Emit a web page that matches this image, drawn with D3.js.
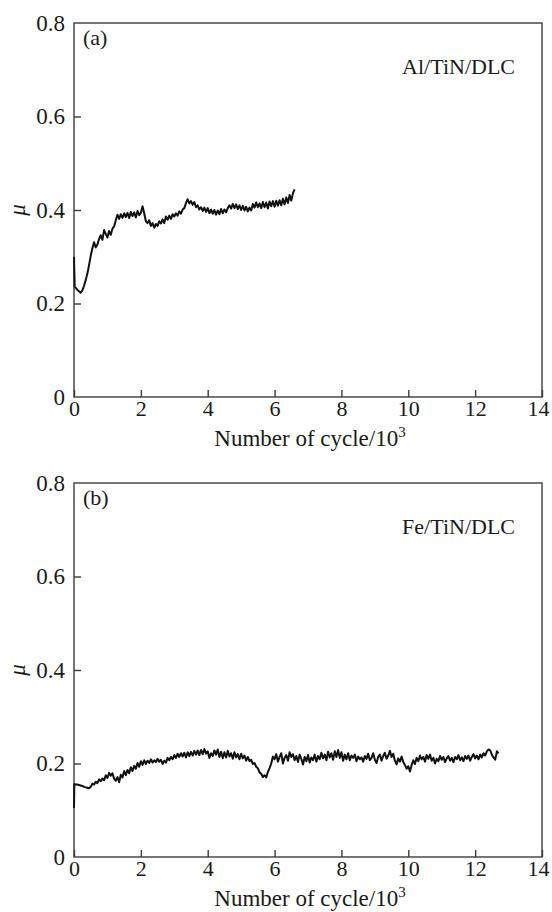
<!DOCTYPE html>
<html>
<head>
<meta charset="utf-8">
<script src="https://cdn.jsdelivr.net/npm/d3@7"></script>
<style>
  body { margin: 0; background: #fff; }
  svg { display: block; }
  text { font-family: "Liberation Serif", "Times New Roman", serif; fill: #1a1a1a; }
</style>
</head>
<body>
<svg id="chart" width="552" height="912"></svg>
<script>
// Axis ticks
const cycleTicks = [0, 2, 4, 6, 8, 10, 12, 14];
const muTicks = [0, 0.2, 0.4, 0.6, 0.8];
const muTickLabels = ["0", "0.2", "0.4", "0.6", "0.8"];

// Panel annotations
const panelTags = ["(a)", "(b)"];
const coatings = ["Al/TiN/DLC", "Fe/TiN/DLC"];

// (a) Al/TiN/DLC: friction coefficient vs. number of cycles (x10^3)
const cyclesA = [0, 0.02,
  0.10, 0.15, 0.20, 0.25, 0.30, 0.35, 0.40, 0.45, 0.50, 0.55, 0.60, 0.65, 0.70, 0.75, 0.80, 0.85, 0.90, 0.95, 1.00,
  1.05, 1.10, 1.15, 1.20, 1.25, 1.30, 1.35, 1.40, 1.45, 1.50, 1.55, 1.60, 1.65, 1.70, 1.75, 1.80, 1.85, 1.90, 1.95, 2.00,
  2.05, 2.10, 2.15, 2.20, 2.25, 2.30, 2.35, 2.40, 2.45, 2.50, 2.55, 2.60, 2.65, 2.70, 2.75, 2.80, 2.85, 2.90, 2.95, 3.00,
  3.05, 3.10, 3.15, 3.20, 3.25, 3.30, 3.35, 3.40, 3.45, 3.50, 3.55, 3.60, 3.65, 3.70, 3.75, 3.80, 3.85, 3.90, 3.95, 4.00,
  4.05, 4.10, 4.15, 4.20, 4.25, 4.30, 4.35, 4.40, 4.45, 4.50, 4.55, 4.60, 4.65, 4.70, 4.75, 4.80, 4.85, 4.90, 4.95, 5.00,
  5.05, 5.10, 5.15, 5.20, 5.25, 5.30, 5.35, 5.40, 5.45, 5.50, 5.55, 5.60, 5.65, 5.70, 5.75, 5.80, 5.85, 5.90, 5.95, 6.00,
  6.05, 6.10, 6.15, 6.20, 6.25, 6.30, 6.35, 6.40, 6.45, 6.50, 6.55, 6.60];
const muA = [0.300, 0.236,
  0.229, 0.226, 0.223, 0.228, 0.238, 0.250, 0.264, 0.282, 0.302, 0.318, 0.331, 0.320, 0.326, 0.338, 0.346, 0.336, 0.357, 0.349, 0.341,
  0.355, 0.347, 0.360, 0.365, 0.378, 0.390, 0.381, 0.391, 0.383, 0.393, 0.385, 0.394, 0.383, 0.396, 0.387, 0.395, 0.384, 0.398, 0.389, 0.394,
  0.408, 0.393, 0.376, 0.372, 0.378, 0.366, 0.372, 0.362, 0.370, 0.366, 0.376, 0.371, 0.380, 0.372, 0.386, 0.379, 0.388, 0.381, 0.391, 0.386,
  0.393, 0.388, 0.397, 0.392, 0.401, 0.404, 0.415, 0.423, 0.414, 0.419, 0.411, 0.417, 0.406, 0.410, 0.401, 0.406, 0.398, 0.405, 0.396, 0.404,
  0.393, 0.401, 0.392, 0.400, 0.390, 0.399, 0.391, 0.402, 0.393, 0.401, 0.395, 0.404, 0.410, 0.403, 0.413, 0.404, 0.412, 0.402, 0.410, 0.400,
  0.409, 0.399, 0.407, 0.397, 0.405, 0.399, 0.413, 0.405, 0.416, 0.406, 0.414, 0.404, 0.417, 0.406, 0.416, 0.403, 0.418, 0.408, 0.419, 0.407,
  0.420, 0.409, 0.421, 0.410, 0.424, 0.412, 0.427, 0.415, 0.432, 0.420, 0.436, 0.444];

// (b) Fe/TiN/DLC
const cyclesB = [0, 0.01,
  0.05, 0.10, 0.15, 0.20, 0.25, 0.30, 0.35, 0.40, 0.45, 0.50, 0.55, 0.60, 0.65, 0.70, 0.75, 0.80, 0.85, 0.90, 0.95, 1.00,
  1.05, 1.10, 1.15, 1.20, 1.25, 1.30, 1.35, 1.40, 1.45, 1.50, 1.55, 1.60, 1.65, 1.70, 1.75, 1.80, 1.85, 1.90, 1.95, 2.00,
  2.05, 2.10, 2.15, 2.20, 2.25, 2.30, 2.35, 2.40, 2.45, 2.50, 2.55, 2.60, 2.65, 2.70, 2.75, 2.80, 2.85, 2.90, 2.95, 3.00,
  3.05, 3.10, 3.15, 3.20, 3.25, 3.30, 3.35, 3.40, 3.45, 3.50, 3.55, 3.60, 3.65, 3.70, 3.75, 3.80, 3.85, 3.90, 3.95, 4.00,
  4.05, 4.10, 4.15, 4.20, 4.25, 4.30, 4.35, 4.40, 4.45, 4.50, 4.55, 4.60, 4.65, 4.70, 4.75, 4.80, 4.85, 4.90, 4.95, 5.00,
  5.05, 5.10, 5.15, 5.20, 5.25, 5.30, 5.35, 5.40, 5.45, 5.50, 5.55, 5.60, 5.65, 5.70, 5.75, 5.80, 5.85, 5.90, 5.95, 6.00,
  6.05, 6.10, 6.15, 6.20, 6.25, 6.30, 6.35, 6.40, 6.45, 6.50, 6.55, 6.60, 6.65, 6.70, 6.75, 6.80, 6.85, 6.90, 6.95, 7.00,
  7.05, 7.10, 7.15, 7.20, 7.25, 7.30, 7.35, 7.40, 7.45, 7.50, 7.55, 7.60, 7.65, 7.70, 7.75, 7.80, 7.85, 7.90, 7.95, 8.00,
  8.05, 8.10, 8.15, 8.20, 8.25, 8.30, 8.35, 8.40, 8.45, 8.50, 8.55, 8.60, 8.65, 8.70, 8.75, 8.80, 8.85, 8.90, 8.95, 9.00,
  9.05, 9.10, 9.15, 9.20, 9.25, 9.30, 9.35, 9.40, 9.45, 9.50, 9.55, 9.60, 9.65, 9.70, 9.75, 9.80, 9.85, 9.90, 9.95, 10.00,
  10.05, 10.10, 10.15, 10.20, 10.25, 10.30, 10.35, 10.40, 10.45, 10.50, 10.55, 10.60, 10.65, 10.70, 10.75, 10.80, 10.85, 10.90, 10.95, 11.00,
  11.05, 11.10, 11.15, 11.20, 11.25, 11.30, 11.35, 11.40, 11.45, 11.50, 11.55, 11.60, 11.65, 11.70, 11.75, 11.80, 11.85, 11.90, 11.95, 12.00,
  12.05, 12.10, 12.15, 12.20, 12.25, 12.30, 12.35, 12.40, 12.45, 12.50, 12.55, 12.60, 12.65, 12.70];
const muB = [0.105, 0.156,
  0.155, 0.155, 0.154, 0.153, 0.152, 0.150, 0.149, 0.148, 0.147, 0.150, 0.157, 0.155, 0.161, 0.158, 0.166, 0.162, 0.168, 0.164, 0.175, 0.169,
  0.180, 0.174, 0.179, 0.168, 0.163, 0.171, 0.160, 0.176, 0.170, 0.184, 0.175, 0.186, 0.179, 0.192, 0.184, 0.195, 0.189, 0.201, 0.193, 0.205,
  0.197, 0.207, 0.199, 0.206, 0.201, 0.209, 0.202, 0.207, 0.203, 0.210, 0.204, 0.208, 0.199, 0.206, 0.202, 0.212, 0.207, 0.214, 0.209, 0.218,
  0.212, 0.221, 0.214, 0.222, 0.215, 0.223, 0.213, 0.224, 0.216, 0.225, 0.217, 0.227, 0.219, 0.228, 0.218, 0.229, 0.220, 0.231, 0.221, 0.226,
  0.212, 0.222, 0.216, 0.228, 0.219, 0.230, 0.214, 0.225, 0.211, 0.224, 0.213, 0.227, 0.215, 0.222, 0.210, 0.224, 0.213, 0.220, 0.209, 0.221,
  0.211, 0.217, 0.206, 0.214, 0.205, 0.208, 0.199, 0.201, 0.193, 0.190, 0.181, 0.178, 0.171, 0.175, 0.170, 0.182, 0.190, 0.200, 0.215, 0.209,
  0.220, 0.204, 0.214, 0.222, 0.200, 0.212, 0.218, 0.206, 0.224, 0.214, 0.220, 0.207, 0.216, 0.203, 0.219, 0.210, 0.198, 0.214, 0.205, 0.218,
  0.202, 0.213, 0.207, 0.219, 0.204, 0.216, 0.209, 0.223, 0.211, 0.219, 0.207, 0.225, 0.213, 0.222, 0.208, 0.226, 0.214, 0.229, 0.212, 0.224,
  0.206, 0.219, 0.209, 0.222, 0.207, 0.217, 0.212, 0.219, 0.205, 0.215, 0.209, 0.213, 0.204, 0.216, 0.210, 0.221, 0.207, 0.212, 0.222, 0.208,
  0.201, 0.214, 0.219, 0.206, 0.216, 0.223, 0.210, 0.217, 0.227, 0.214, 0.221, 0.206, 0.198, 0.211, 0.204, 0.215, 0.203, 0.197, 0.189, 0.194,
  0.183, 0.197, 0.207, 0.199, 0.212, 0.205, 0.217, 0.209, 0.214, 0.204, 0.218, 0.210, 0.219, 0.206, 0.212, 0.200, 0.210, 0.205, 0.216, 0.208,
  0.214, 0.203, 0.211, 0.216, 0.206, 0.212, 0.203, 0.214, 0.209, 0.218, 0.207, 0.213, 0.205, 0.216, 0.210, 0.217, 0.206, 0.214, 0.220, 0.211,
  0.217, 0.209, 0.219, 0.213, 0.222, 0.217, 0.226, 0.230, 0.228, 0.219, 0.213, 0.208, 0.226, 0.222];

const series = [
  { cycles: cyclesA, mu: muA },
  { cycles: cyclesB, mu: muB }
];

const svg = d3.select("#chart");
const left = 74, right = 542;
const panelTops = [23, 483];
const panelHeight = 374;
const axisColor = "#3c3c3c";
const fontSize = 23;

const x = d3.scaleLinear().domain([0, 14]).range([left, right]);

series.forEach((s, i) => {
  const top = panelTops[i];
  const bottom = top + panelHeight;
  const y = d3.scaleLinear().domain([0, 0.8]).range([bottom, top]);
  const g = svg.append("g");

  // frame
  g.append("rect")
    .attr("x", left).attr("y", top)
    .attr("width", right - left).attr("height", bottom - top)
    .attr("fill", "none").attr("stroke", axisColor).attr("stroke-width", 1.4);

  // x axis (ticks pointing inward)
  const xAxis = g.append("g")
    .attr("transform", `translate(0,${bottom})`)
    .call(d3.axisBottom(x).tickValues(cycleTicks).tickFormat(d3.format("d"))
      .tickSizeInner(-7).tickSizeOuter(0).tickPadding(3));
  xAxis.select(".domain").remove();
  xAxis.selectAll(".tick line").attr("stroke", axisColor).attr("stroke-width", 1.4);
  xAxis.selectAll(".tick text").attr("font-size", 22).attr("fill", "#1a1a1a");
  // keep the last label inside the page edge
  xAxis.selectAll(".tick").filter(d => d === 14).select("text").attr("dx", -4);

  // y axis
  const yAxis = g.append("g")
    .attr("transform", `translate(${left},0)`)
    .call(d3.axisLeft(y).tickValues(muTicks).tickFormat((d, k) => muTickLabels[k])
      .tickSizeInner(-7).tickSizeOuter(0).tickPadding(9));
  yAxis.select(".domain").remove();
  yAxis.selectAll(".tick line").attr("stroke", axisColor).attr("stroke-width", 1.4);
  yAxis.selectAll(".tick text").attr("font-size", fontSize).attr("fill", "#1a1a1a");
  yAxis.selectAll(".tick").filter(d => d === 0.8 || d === 0).select("line").remove();

  // friction curve
  const pts = d3.zip(s.cycles, s.mu);
  g.append("path")
    .datum(pts)
    .attr("fill", "none")
    .attr("stroke", "#111")
    .attr("stroke-width", 2)
    .attr("stroke-linejoin", "round")
    .attr("d", d3.line().x(d => x(d[0])).y(d => y(d[1])));

  // axis titles
  const xt = g.append("text")
    .attr("x", (left + right) / 2 + 2).attr("y", bottom + 49)
    .attr("text-anchor", "middle").attr("font-size", fontSize);
  xt.append("tspan").text("Number of cycle/10");
  xt.append("tspan").attr("font-size", 15).attr("dy", -9).text("3");

  g.append("text")
    .attr("transform", `translate(25,${(top + bottom) / 2}) rotate(-90)`)
    .attr("text-anchor", "middle")
    .attr("font-style", "italic").attr("font-size", fontSize)
    .text("μ");

  // panel tag and coating label
  g.append("text").attr("x", 83).attr("y", top + 22).attr("font-size", 22).text(panelTags[i]);
  g.append("text").attr("x", 515).attr("y", top + 51).attr("text-anchor", "end")
    .attr("font-size", 22).text(coatings[i]);
});
</script>
</body>
</html>
